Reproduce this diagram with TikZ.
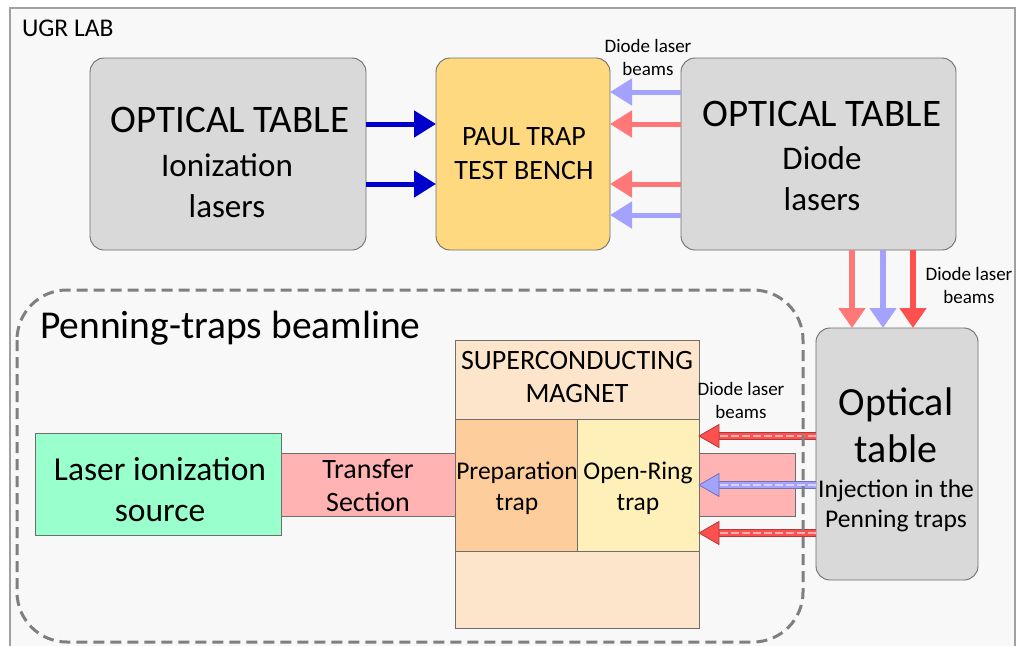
\documentclass[tikz,border=0pt]{standalone}
\usepackage{fontspec}
\setmainfont{Carlito}
\usetikzlibrary{arrows.meta,calc}
\definecolor{bgc}{HTML}{F8F8F8}
\definecolor{framec}{HTML}{A0A0A0}
\definecolor{boxgray}{HTML}{D9D9D9}
\definecolor{boxedge}{HTML}{6E6E6E}
\definecolor{paulc}{HTML}{FFD97F}
\definecolor{mintc}{HTML}{99FFCC}
\definecolor{pinkc}{HTML}{FFB3B3}
\definecolor{magc}{HTML}{FDE5CC}
\definecolor{prepc}{HTML}{FDCD9B}
\definecolor{ringc}{HTML}{FFF0BA}
\definecolor{dblue}{HTML}{0000CC}
\definecolor{lblue}{HTML}{A3A3FF}
\definecolor{lred}{HTML}{FF7777}
\definecolor{mred}{HTML}{FF5050}
\definecolor{dashc}{HTML}{7F7F7F}
\newcommand\fs[2]{\fontsize{#1}{#2}\selectfont}
\newcommand\dashbeam[3]{%
  \draw[line width=8pt, #1!70!black] (#2) -- ($(#3)+(18,0)$);
  \draw[line width=6pt, #1] (#2) -- ($(#3)+(18,0)$);
  \draw[line width=1.2pt, white!55!#1, dash pattern=on 8pt off 3pt] (#2) -- ($(#3)+(18,0)$);
  \filldraw[fill=#1, draw=#1!70!black, line width=0.8pt] (#3) -- ($(#3)+(20,-11.5)$) -- ($(#3)+(20,11.5)$) -- cycle;
}
\begin{document}
\begin{tikzpicture}[x=1pt,y=-1pt,
  every node/.style={inner sep=0pt, outer sep=0pt},
  gbox/.style={draw=boxedge, fill=boxgray, line width=0.9pt, rounded corners=14pt, anchor=north west},
  sqbox/.style={draw=boxedge, line width=0.8pt, anchor=north west},
  lbl/.style={align=center, text=black},
  bigarrow/.style={line width=5pt, -{Triangle[length=22pt,width=26pt]}},
  downarrow/.style={line width=6pt, -{Triangle[length=20pt,width=26pt]}},
]
\useasboundingbox (0,0) rectangle (1017,645);
\fill[white] (0,0) rectangle (1017,645);
\node[draw=framec, fill=bgc, line width=1.5pt, minimum width=1005, minimum height=650, anchor=north west] (lab) at (10,8) {};
\node[anchor=west, lbl, font=\fs{25.5}{30}] (labT) at (22,28) {UGR LAB};

% top boxes
\node[gbox, minimum width=276, minimum height=192] (ion) at (90,58) {};
\node[lbl, font=\fs{39}{45}] (ionT1) at (230,120) {OPTICAL TABLE};
\node[lbl, font=\fs{33}{41}] (ionT2) at (227,186) {Ionization\\lasers};

\node[gbox, fill=paulc, minimum width=174, minimum height=192] (paul) at (436,58) {};
\node[lbl, font=\fs{28}{34}] (paulT) at (524,154) {PAUL TRAP\\TEST BENCH};

\node[gbox, minimum width=275, minimum height=192] (dio) at (681,58) {};
\node[lbl, font=\fs{39}{45}] (dioT1) at (822,114) {OPTICAL TABLE};
\node[lbl, font=\fs{33}{41}] (dioT2) at (822,179) {Diode\\lasers};

\node[lbl, font=\fs{19}{23}] (lab1) at (648,57) {Diode laser\\beams};

% top arrows
\draw[bigarrow, dblue] (ion.east |- 0,124) -- (paul.west |- 0,124);
\draw[bigarrow, dblue] (ion.east |- 0,184) -- (paul.west |- 0,184);
\draw[bigarrow, lblue] (dio.west |- 0,92) -- (paul.east |- 0,92);
\draw[bigarrow, lred] (dio.west |- 0,124) -- (paul.east |- 0,124);
\draw[bigarrow, lred] (dio.west |- 0,184) -- (paul.east |- 0,184);
\draw[bigarrow, lblue] (dio.west |- 0,215) -- (paul.east |- 0,215);

% lower optical table
\node[gbox, minimum width=162, minimum height=252] (otab) at (816,328) {};
\node[lbl, font=\fs{40}{47}] (otabT1) at (896,425) {Optical\\table};
\node[lbl, font=\fs{25.5}{30}] (otabT2) at (896,506) {Injection in the\\Penning traps};

% down arrows
\draw[downarrow, lred] (dio.south -| 852,0) -- (otab.north -| 852,0);
\draw[downarrow, lblue] (dio.south -| 883,0) -- (otab.north -| 883,0);
\draw[downarrow, mred] (dio.south -| 913,0) -- (otab.north -| 913,0);
\node[lbl, font=\fs{19}{23}] (lab2) at (969,285) {Diode laser\\beams};

% penning beamline
\node[anchor=west, lbl, font=\fs{39.5}{45}] (penT) at (40,328) {Penning-traps beamline};

\node[sqbox, fill=mintc, minimum width=246, minimum height=102] (src) at (35,433) {};
\node[lbl, font=\fs{33.5}{41}] (srcT) at (160,490) {Laser ionization\\source};

\node[sqbox, fill=pinkc, minimum width=174, minimum height=63] (trans) at (281,453) {};
\node[lbl, font=\fs{28}{33}] (transT) at (368,485) {Transfer\\Section};

\node[sqbox, fill=pinkc, minimum width=96, minimum height=63] (rpink) at (699,453) {};

\node[sqbox, fill=magc, minimum width=244, minimum height=288] (mag) at (455,340) {};
\node[lbl, font=\fs{28}{33}] (magT) at (577,377) {SUPERCONDUCTING\\MAGNET};
\node[sqbox, fill=prepc, minimum width=122, minimum height=132] (prep) at (455,419) {};
\node[sqbox, fill=ringc, minimum width=122, minimum height=132] (ring) at (577,419) {};
\node[lbl, font=\fs{25.5}{31}] (prepT) at (517,488) {Preparation\\trap};
\node[lbl, font=\fs{25.5}{31}] (ringT) at (638,488) {Open-Ring\\trap};

\node[lbl, font=\fs{19}{23}] (lab3) at (741,400) {Diode laser\\beams};

\coordinate (b1s) at (otab.west |- 0,436);
\coordinate (b1e) at (mag.east |- 0,436);
\coordinate (b2s) at (otab.west |- 0,485);
\coordinate (b2e) at (mag.east |- 0,485);
\coordinate (b3s) at (otab.west |- 0,533);
\coordinate (b3e) at (mag.east |- 0,533);
\dashbeam{mred}{b1s}{b1e}
\dashbeam{lblue}{b2s}{b2e}
\dashbeam{mred}{b3s}{b3e}

\draw[dashc, line width=3pt, dash pattern=on 11pt off 6pt, rounded corners=50pt] (17,290) rectangle (803,642);
\end{tikzpicture}
\end{document}
